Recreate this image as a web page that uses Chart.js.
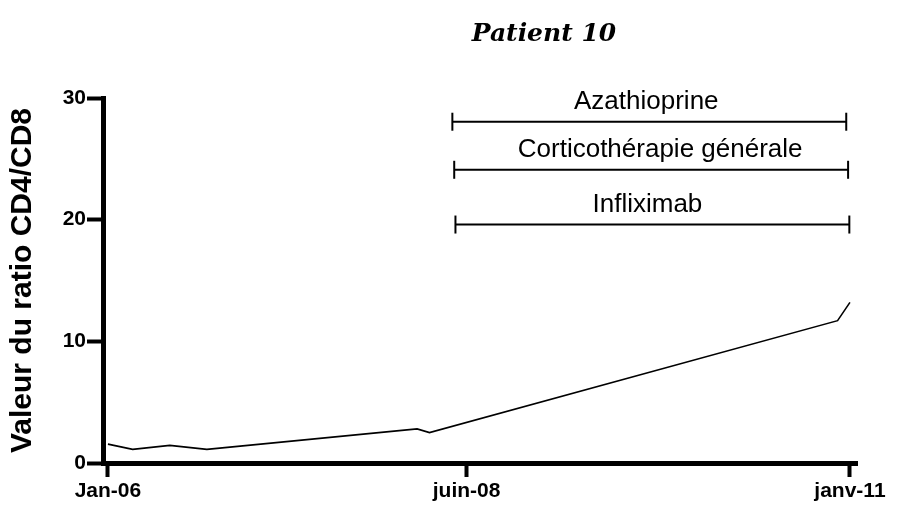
<!DOCTYPE html>
<html>
<head>
<meta charset="utf-8">
<script src="https://cdn.jsdelivr.net/npm/chart.js@4"></script>
<style>
  html, body { margin: 0; padding: 0; background: #fff; }
  #wrap { width: 899px; height: 509px; position: relative; }
</style>
</head>
<body>
<div id="wrap"><canvas id="ratioChart"></canvas></div>
<script>
// months counted from Jan-06
const months = [0, 2, 5, 8, 25, 26, 59, 60];
const ratio = [1.55, 1.12, 1.45, 1.12, 2.8, 2.5, 11.7, 13.2];

const xTickMonths = [0, 29, 60];
const xTickLabels = ["Jan-06", "juin-08", "janv-11"];

// treatments: name, start month, end month, level on the y scale
const treatNames = ["Azathioprine", "Corticothérapie générale", "Infliximab"];
const treatStart = [27.85, 28.0, 28.1];
const treatEnd = [59.7, 59.85, 59.95];
const treatLevel = [28.05, 24.1, 19.6];

const axisFont = "'Liberation Sans', Arial, sans-serif";

let datasets = [
  {
    label: "CD4/CD8",
    data: months.map((m, i) => ({ x: m, y: ratio[i] })),
    showLine: true,
    borderColor: "#000",
    borderWidth: 1.6,
    pointRadius: 0,
    tension: 0,
    fill: false,
  },
];

for (let i = 0; i < treatNames.length; i++) {
  datasets.push({
    label: treatNames[i],
    data: [
      { x: treatStart[i], y: treatLevel[i] },
      { x: treatEnd[i], y: treatLevel[i] },
    ],
    showLine: true,
    borderColor: "#000",
    borderWidth: 2,
    pointStyle: "line",
    pointRotation: 90,
    pointRadius: 9,
    pointBorderWidth: 2,
    pointBorderColor: "#000",
    clip: false,
  });
}

// treatment names above their bars (small horizontal nudge per label)
const labelNudge = [-3, 9, -5];
const treatLabels = {
  id: "treatLabels",
  afterDatasetsDraw(chart) {
    const ctx = chart.ctx;
    const xs = chart.scales.x;
    const ys = chart.scales.y;
    ctx.save();
    ctx.fillStyle = "#000";
    ctx.font = "26px 'Liberation Sans', Arial, sans-serif";
    ctx.textAlign = "center";
    ctx.textBaseline = "middle";
    for (let i = 0; i < treatNames.length; i++) {
      let cx = xs.getPixelForValue((treatStart[i] + treatEnd[i]) / 2) + labelNudge[i];
      let cy = ys.getPixelForValue(treatLevel[i]) - 20;
      ctx.fillText(treatNames[i], cx, cy);
    }
    ctx.restore();
  },
};

const titlePlugin = {
  id: "patientTitle",
  afterDraw(chart) {
    const ctx = chart.ctx;
    ctx.save();
    ctx.fillStyle = "#000";
    ctx.font = "italic bold 25px 'DejaVu Serif', serif";
    ctx.textAlign = "center";
    ctx.textBaseline = "middle";
    ctx.fillText("Patient 10", 544, 34);
    ctx.restore();
  },
};

let options = {
  responsive: true,
  maintainAspectRatio: false,
  animation: false,
  layout: { padding: { top: 98, right: 42, bottom: 0, left: 0 } },
  plugins: { legend: { display: false }, tooltip: { enabled: false } },
  scales: {
    x: {
      type: "linear",
      min: -0.4,
      max: 60.57,
      afterBuildTicks: (scale) => {
        scale.ticks = xTickMonths.map((v) => ({ value: v }));
      },
      afterFit: (scale) => {
        scale.height = 46;
      },
      border: { display: true, color: "#000", width: 5 },
      grid: {
        drawOnChartArea: false,
        drawTicks: true,
        tickLength: 14,
        tickWidth: 4,
        tickColor: "#000",
      },
      ticks: {
        color: "#000",
        padding: 2,
        maxRotation: 0,
        autoSkip: false,
        font: { family: axisFont, size: 21, weight: "bold" },
        callback: (v) => xTickLabels[xTickMonths.indexOf(v)],
      },
    },
    y: {
      type: "linear",
      min: 0,
      max: 30,
      afterFit: (scale) => {
        scale.width = 103;
      },
      border: { display: true, color: "#000", width: 5 },
      grid: {
        drawOnChartArea: false,
        drawTicks: true,
        tickLength: 16,
        tickWidth: 4,
        tickColor: "#000",
      },
      ticks: {
        color: "#000",
        stepSize: 10,
        padding: 1,
        font: { family: axisFont, size: 21, weight: "bold" },
      },
      title: {
        display: true,
        text: "Valeur du ratio CD4/CD8",
        color: "#000",
        padding: { top: 5, bottom: 0 },
        font: { family: axisFont, size: 30, weight: "bold" },
      },
    },
  },
};

var ctx = document.getElementById("ratioChart").getContext("2d");
var myChart = new Chart(ctx, {
  type: "scatter",
  data: { datasets: datasets },
  options: options,
  plugins: [treatLabels, titlePlugin],
});
</script>
</body>
</html>
